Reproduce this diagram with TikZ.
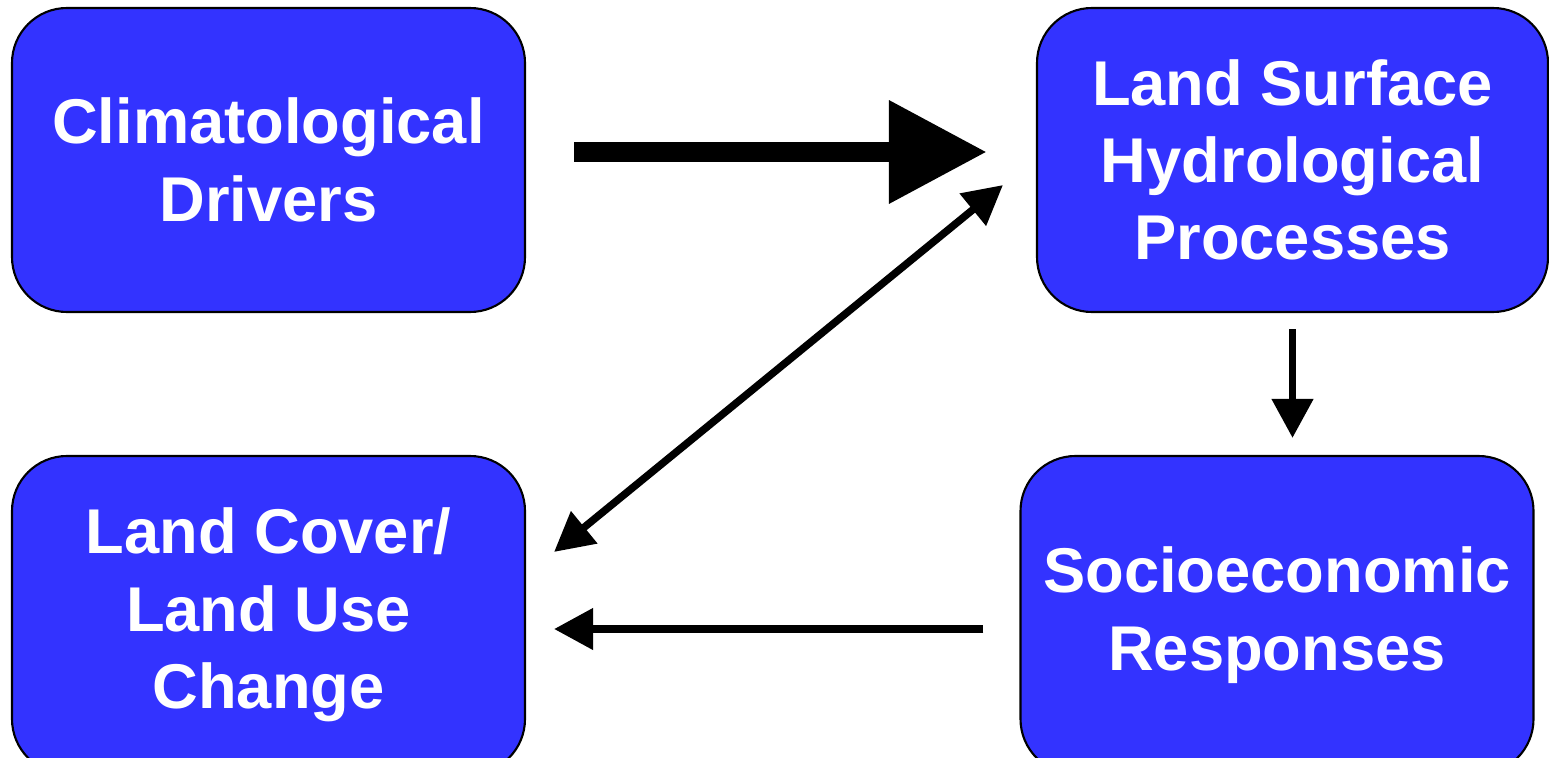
\documentclass[tikz,border=0pt]{standalone}
\usepackage{fontspec}
\setmainfont{Liberation Sans}
\usetikzlibrary{arrows.meta}
\definecolor{boxblue}{HTML}{3333FF}
\tikzset{
  box/.style={draw=black, line width=1.2pt, fill=boxblue, rounded corners=1.1cm,
    minimum width=10.26cm, minimum height=6.08cm, inner sep=0pt, align=center,
    text=white, font=\fontsize{36}{44}\selectfont\bfseries},
  bigarrow/.style={line width=0.4cm, -{Triangle[length=1.96cm, width=1.96cm]}},
  thinarrow/.style={line width=0.15cm, -{Triangle[length=0.78cm, width=0.8cm]}}
}
\begin{document}
\begin{tikzpicture}
    \useasboundingbox (0,0) rectangle (30.98,-15.16);

    \node[box] (clim) at (5.37,-3.2) {Climatological\\Drivers};
    \node[box, minimum width=10.22cm] (land) at (25.85,-3.2) {Land Surface\\Hydrological\\Processes};
    \node[box, minimum height=6.36cm] (cover) at (5.37,-12.3) {Land Cover/\\Land Use\\Change};
    \node[box, minimum height=6.36cm] (socio) at (25.54,-12.3) {Socioeconomic\\Responses};

    % fleches
    \draw[bigarrow, shorten <=0.96cm, shorten >=0.98cm] ([yshift=0.16cm]clim.east) -- ([yshift=0.16cm]land.west);
    \draw[thinarrow, {Triangle[length=0.78cm, width=0.8cm]}-{Triangle[length=0.78cm, width=0.8cm]}] ([shift={(0.56,-1.94)}]cover.north east) -- ([shift={(-0.66,2.56)}]land.south west);
    \draw[thinarrow, shorten <=0.32cm, shorten >=0.34cm] (land.south) -- (land.south |- socio.north);
    \draw[thinarrow, shorten <=0.72cm, shorten >=0.56cm] ([yshift=-0.28cm]socio.west) -- ([yshift=-0.28cm]cover.east);
  \end{tikzpicture}
\end{document}
